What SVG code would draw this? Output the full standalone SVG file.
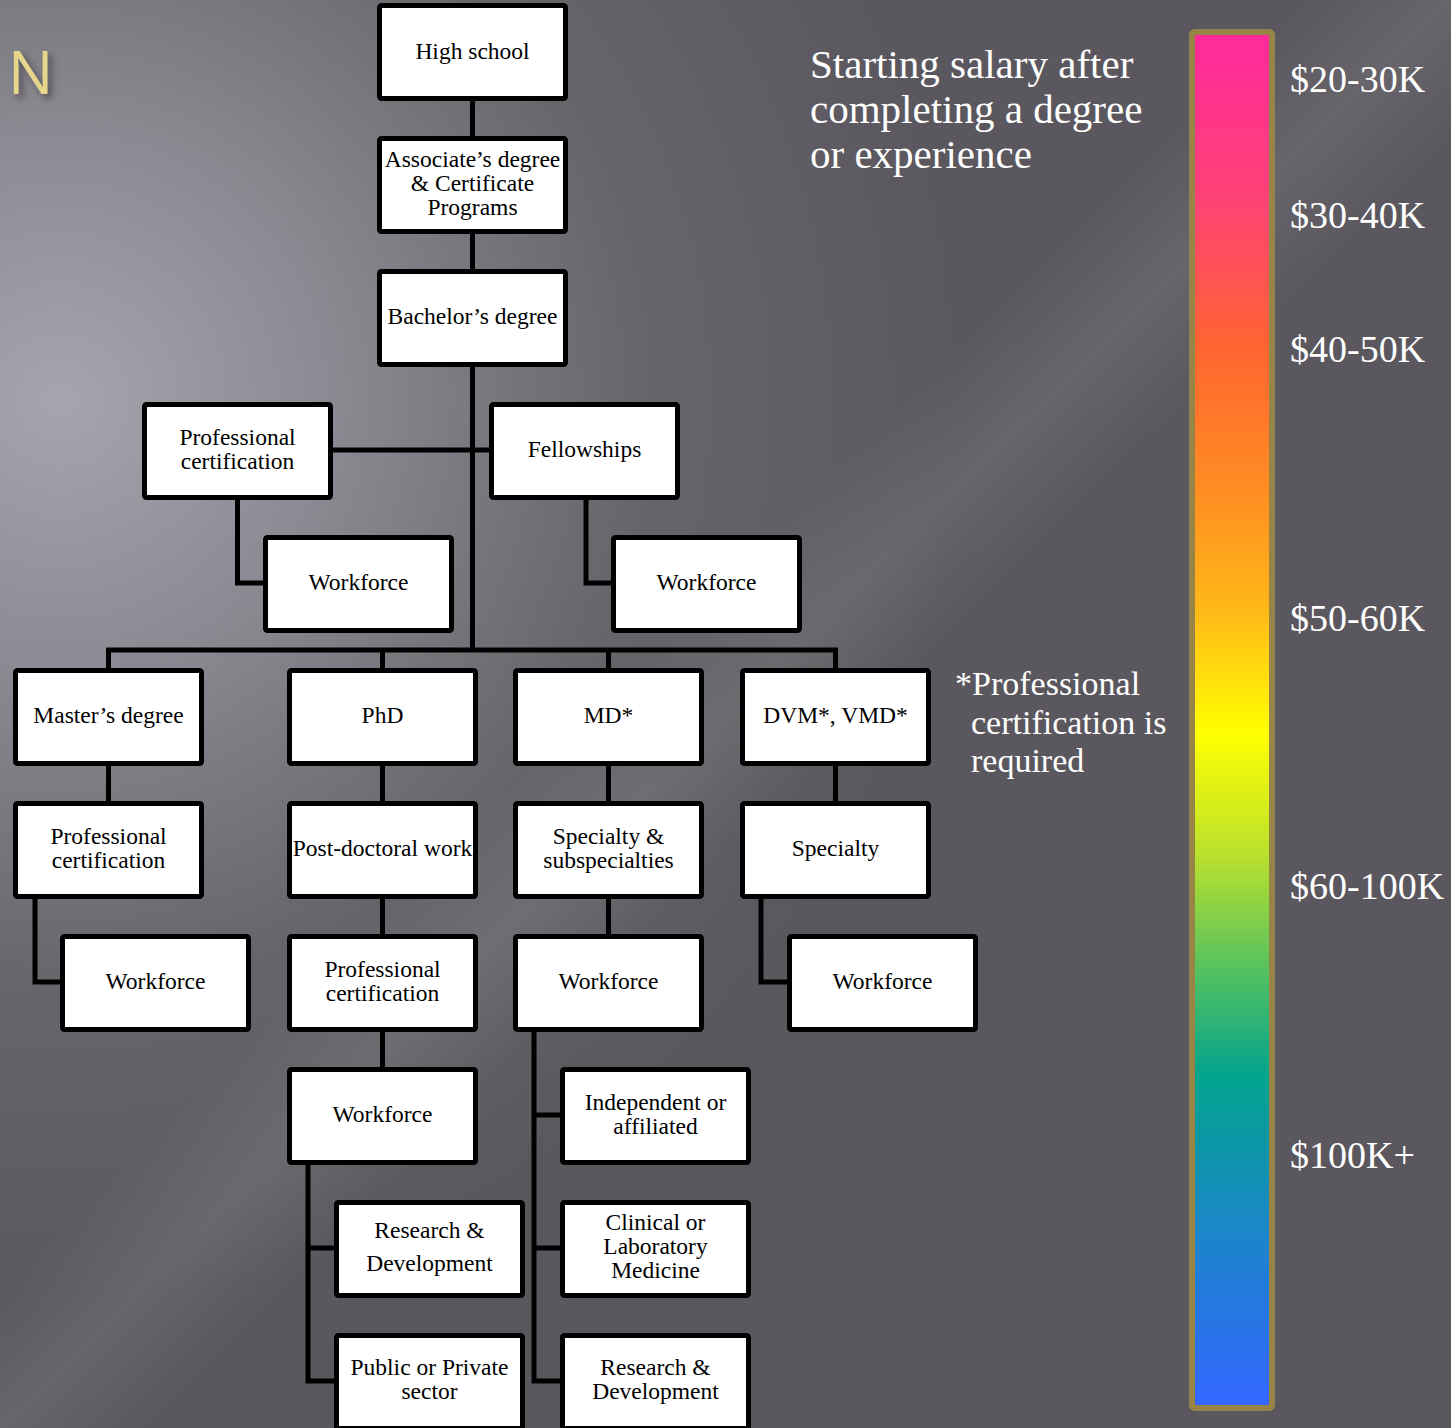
<svg xmlns="http://www.w3.org/2000/svg" width="1451" height="1428" viewBox="0 0 1451 1428">
<defs>
<radialGradient id="bg" cx="60" cy="400" r="900" gradientUnits="userSpaceOnUse">
<stop offset="0" stop-color="#a6a4ac"/>
<stop offset="0.3" stop-color="#8b8991"/>
<stop offset="0.65" stop-color="#67656b"/>
<stop offset="1" stop-color="#5a585e"/>
</radialGradient>
<linearGradient id="streak" x1="0" y1="0" x2="1" y2="1">
<stop offset="0" stop-color="#ffffff" stop-opacity="0"/>
<stop offset="0.45" stop-color="#ffffff" stop-opacity="0"/>
<stop offset="0.5" stop-color="#ffffff" stop-opacity="0.08"/>
<stop offset="0.55" stop-color="#ffffff" stop-opacity="0"/>
<stop offset="1" stop-color="#ffffff" stop-opacity="0"/>
</linearGradient>
<linearGradient id="bar" x1="0" y1="35" x2="0" y2="1405" gradientUnits="userSpaceOnUse">
<stop offset="0" stop-color="#ff2a9c"/>
<stop offset="0.12" stop-color="#ff4276"/>
<stop offset="0.23" stop-color="#ff6530"/>
<stop offset="0.33" stop-color="#ff8c22"/>
<stop offset="0.42" stop-color="#ffb818"/>
<stop offset="0.51" stop-color="#ffff00"/>
<stop offset="0.6" stop-color="#b8e02e"/>
<stop offset="0.68" stop-color="#58c25e"/>
<stop offset="0.76" stop-color="#02a48e"/>
<stop offset="0.88" stop-color="#1c84cc"/>
<stop offset="1" stop-color="#3366ff"/>
</linearGradient>
<filter id="shadow" x="-30%" y="-30%" width="170%" height="170%">
<feDropShadow dx="4" dy="4" stdDeviation="3" flood-color="#2a282e" flood-opacity="0.6"/>
</filter>
</defs>
<style>
.box rect{fill:#ffffff;stroke:#000000;stroke-width:5}
.box text{font-family:"Liberation Serif",serif;font-size:23.5px;fill:#000000;text-anchor:middle}
.conn path{fill:none;stroke:#000000;stroke-width:5}
.note{font-family:"Liberation Serif",serif;fill:#ffffff}
</style>
<rect x="0" y="0" width="1451" height="1428" fill="url(#bg)"/>
<rect x="0" y="0" width="1451" height="1428" fill="url(#streak)"/>
<text x="8" y="94" font-family="Open Sans, sans-serif" font-size="60" fill="#e6d68c" filter="url(#shadow)">N</text>

<g class="conn">
<path d="M472.5 101V650"/>
<path d="M333 450H489"/>
<path d="M237.5 499V583H263"/>
<path d="M586 499V583H611"/>
<path d="M108.5 668V650H835.5V668"/>
<path d="M382.5 650V668"/>
<path d="M608.5 650V668"/>
<path d="M108.5 766V801"/>
<path d="M35 898V982H60"/>
<path d="M382.5 766V801M382.5 898V934M382.5 1031V1067"/>
<path d="M308 1164V1381H334M308 1248H334"/>
<path d="M608.5 766V801M608.5 898V934"/>
<path d="M534 1031V1381H560M534 1115H560M534 1248H560"/>
<path d="M835.5 766V801"/>
<path d="M761 898V982H787"/>
</g>

<g id="n-highschool" class="box"><rect x="379.5" y="5.5" width="186" height="93" rx="2"/><text x="472.5" y="59">High school</text></g>
<g id="n-associate" class="box"><rect x="379.5" y="138.5" width="186" height="93" rx="2"/><text x="472.5" y="167">Associate’s degree<tspan x="472.5" dy="24">&amp; Certificate</tspan><tspan x="472.5" dy="24">Programs</tspan></text></g>
<g id="n-bachelor" class="box"><rect x="379.5" y="271.5" width="186" height="93" rx="2"/><text x="472.5" y="324">Bachelor’s degree</text></g>
<g id="n-profcert1" class="box"><rect x="144.5" y="404.5" width="186" height="93" rx="2"/><text x="237.5" y="445">Professional<tspan x="237.5" dy="24">certification</tspan></text></g>
<g id="n-fellowships" class="box"><rect x="491.5" y="404.5" width="186" height="93" rx="2"/><text x="584.5" y="457">Fellowships</text></g>
<g id="n-workforce1" class="box"><rect x="265.5" y="537.5" width="186" height="93" rx="2"/><text x="358.5" y="590">Workforce</text></g>
<g id="n-workforce2" class="box"><rect x="613.5" y="537.5" width="186" height="93" rx="2"/><text x="706.5" y="590">Workforce</text></g>

<g id="n-master" class="box"><rect x="15.5" y="670.5" width="186" height="93" rx="2"/><text x="108.5" y="723">Master’s degree</text></g>
<g id="n-phd" class="box"><rect x="289.5" y="670.5" width="186" height="93" rx="2"/><text x="382.5" y="723">PhD</text></g>
<g id="n-md" class="box"><rect x="515.5" y="670.5" width="186" height="93" rx="2"/><text x="608.5" y="723">MD*</text></g>
<g id="n-dvm" class="box"><rect x="742.5" y="670.5" width="186" height="93" rx="2"/><text x="835.5" y="723">DVM*, VMD*</text></g>

<g id="n-profcert2" class="box"><rect x="15.5" y="803.5" width="186" height="93" rx="2"/><text x="108.5" y="844">Professional<tspan x="108.5" dy="24">certification</tspan></text></g>
<g id="n-postdoc" class="box"><rect x="289.5" y="803.5" width="186" height="93" rx="2"/><text x="382.5" y="856">Post-doctoral work</text></g>
<g id="n-specsub" class="box"><rect x="515.5" y="803.5" width="186" height="93" rx="2"/><text x="608.5" y="844">Specialty &amp;<tspan x="608.5" dy="24">subspecialties</tspan></text></g>
<g id="n-specialty" class="box"><rect x="742.5" y="803.5" width="186" height="93" rx="2"/><text x="835.5" y="856">Specialty</text></g>

<g id="n-workforce3" class="box"><rect x="62.5" y="936.5" width="186" height="93" rx="2"/><text x="155.5" y="989">Workforce</text></g>
<g id="n-profcert3" class="box"><rect x="289.5" y="936.5" width="186" height="93" rx="2"/><text x="382.5" y="977">Professional<tspan x="382.5" dy="24">certification</tspan></text></g>
<g id="n-workforce4" class="box"><rect x="515.5" y="936.5" width="186" height="93" rx="2"/><text x="608.5" y="989">Workforce</text></g>
<g id="n-workforce5" class="box"><rect x="789.5" y="936.5" width="186" height="93" rx="2"/><text x="882.5" y="989">Workforce</text></g>

<g id="n-workforce6" class="box"><rect x="289.5" y="1069.5" width="186" height="93" rx="2"/><text x="382.5" y="1122">Workforce</text></g>
<g id="n-independent" class="box"><rect x="562.5" y="1069.5" width="186" height="93" rx="2"/><text x="655.5" y="1110">Independent or<tspan x="655.5" dy="24">affiliated</tspan></text></g>

<g id="n-rd1" class="box"><rect x="336.5" y="1202.5" width="186" height="93" rx="2"/><text x="429.5" y="1238">Research &amp;<tspan x="429.5" dy="33">Development</tspan></text></g>
<g id="n-clinical" class="box"><rect x="562.5" y="1202.5" width="186" height="93" rx="2"/><text x="655.5" y="1230">Clinical or<tspan x="655.5" dy="24">Laboratory</tspan><tspan x="655.5" dy="24">Medicine</tspan></text></g>

<g id="n-public" class="box"><rect x="336.5" y="1335.5" width="186" height="93" rx="2"/><text x="429.5" y="1375">Public or Private<tspan x="429.5" dy="24">sector</tspan></text></g>
<g id="n-rd2" class="box"><rect x="562.5" y="1335.5" width="186" height="93" rx="2"/><text x="655.5" y="1375">Research &amp;<tspan x="655.5" dy="24">Development</tspan></text></g>

<g id="title" class="note" font-size="41">
<text x="810" y="78">Starting salary after<tspan x="810" dy="45">completing a degree</tspan><tspan x="810" dy="45">or experience</tspan></text>
</g>
<g id="footnote" class="note" font-size="34">
<text x="955" y="695">*Professional<tspan x="971" dy="39">certification is</tspan><tspan x="971" dy="38">required</tspan></text>
</g>

<g id="colorbar">
<rect x="1192" y="32" width="80" height="1376" rx="3" fill="url(#bar)" stroke="#978447" stroke-width="6"/>
</g>
<g id="salary-labels" class="note" font-size="38">
<text x="1290" y="92">$20-30K</text>
<text x="1290" y="228">$30-40K</text>
<text x="1290" y="362">$40-50K</text>
<text x="1290" y="631">$50-60K</text>
<text x="1290" y="899">$60-100K</text>
<text x="1290" y="1168">$100K+</text>
</g>
</svg>
